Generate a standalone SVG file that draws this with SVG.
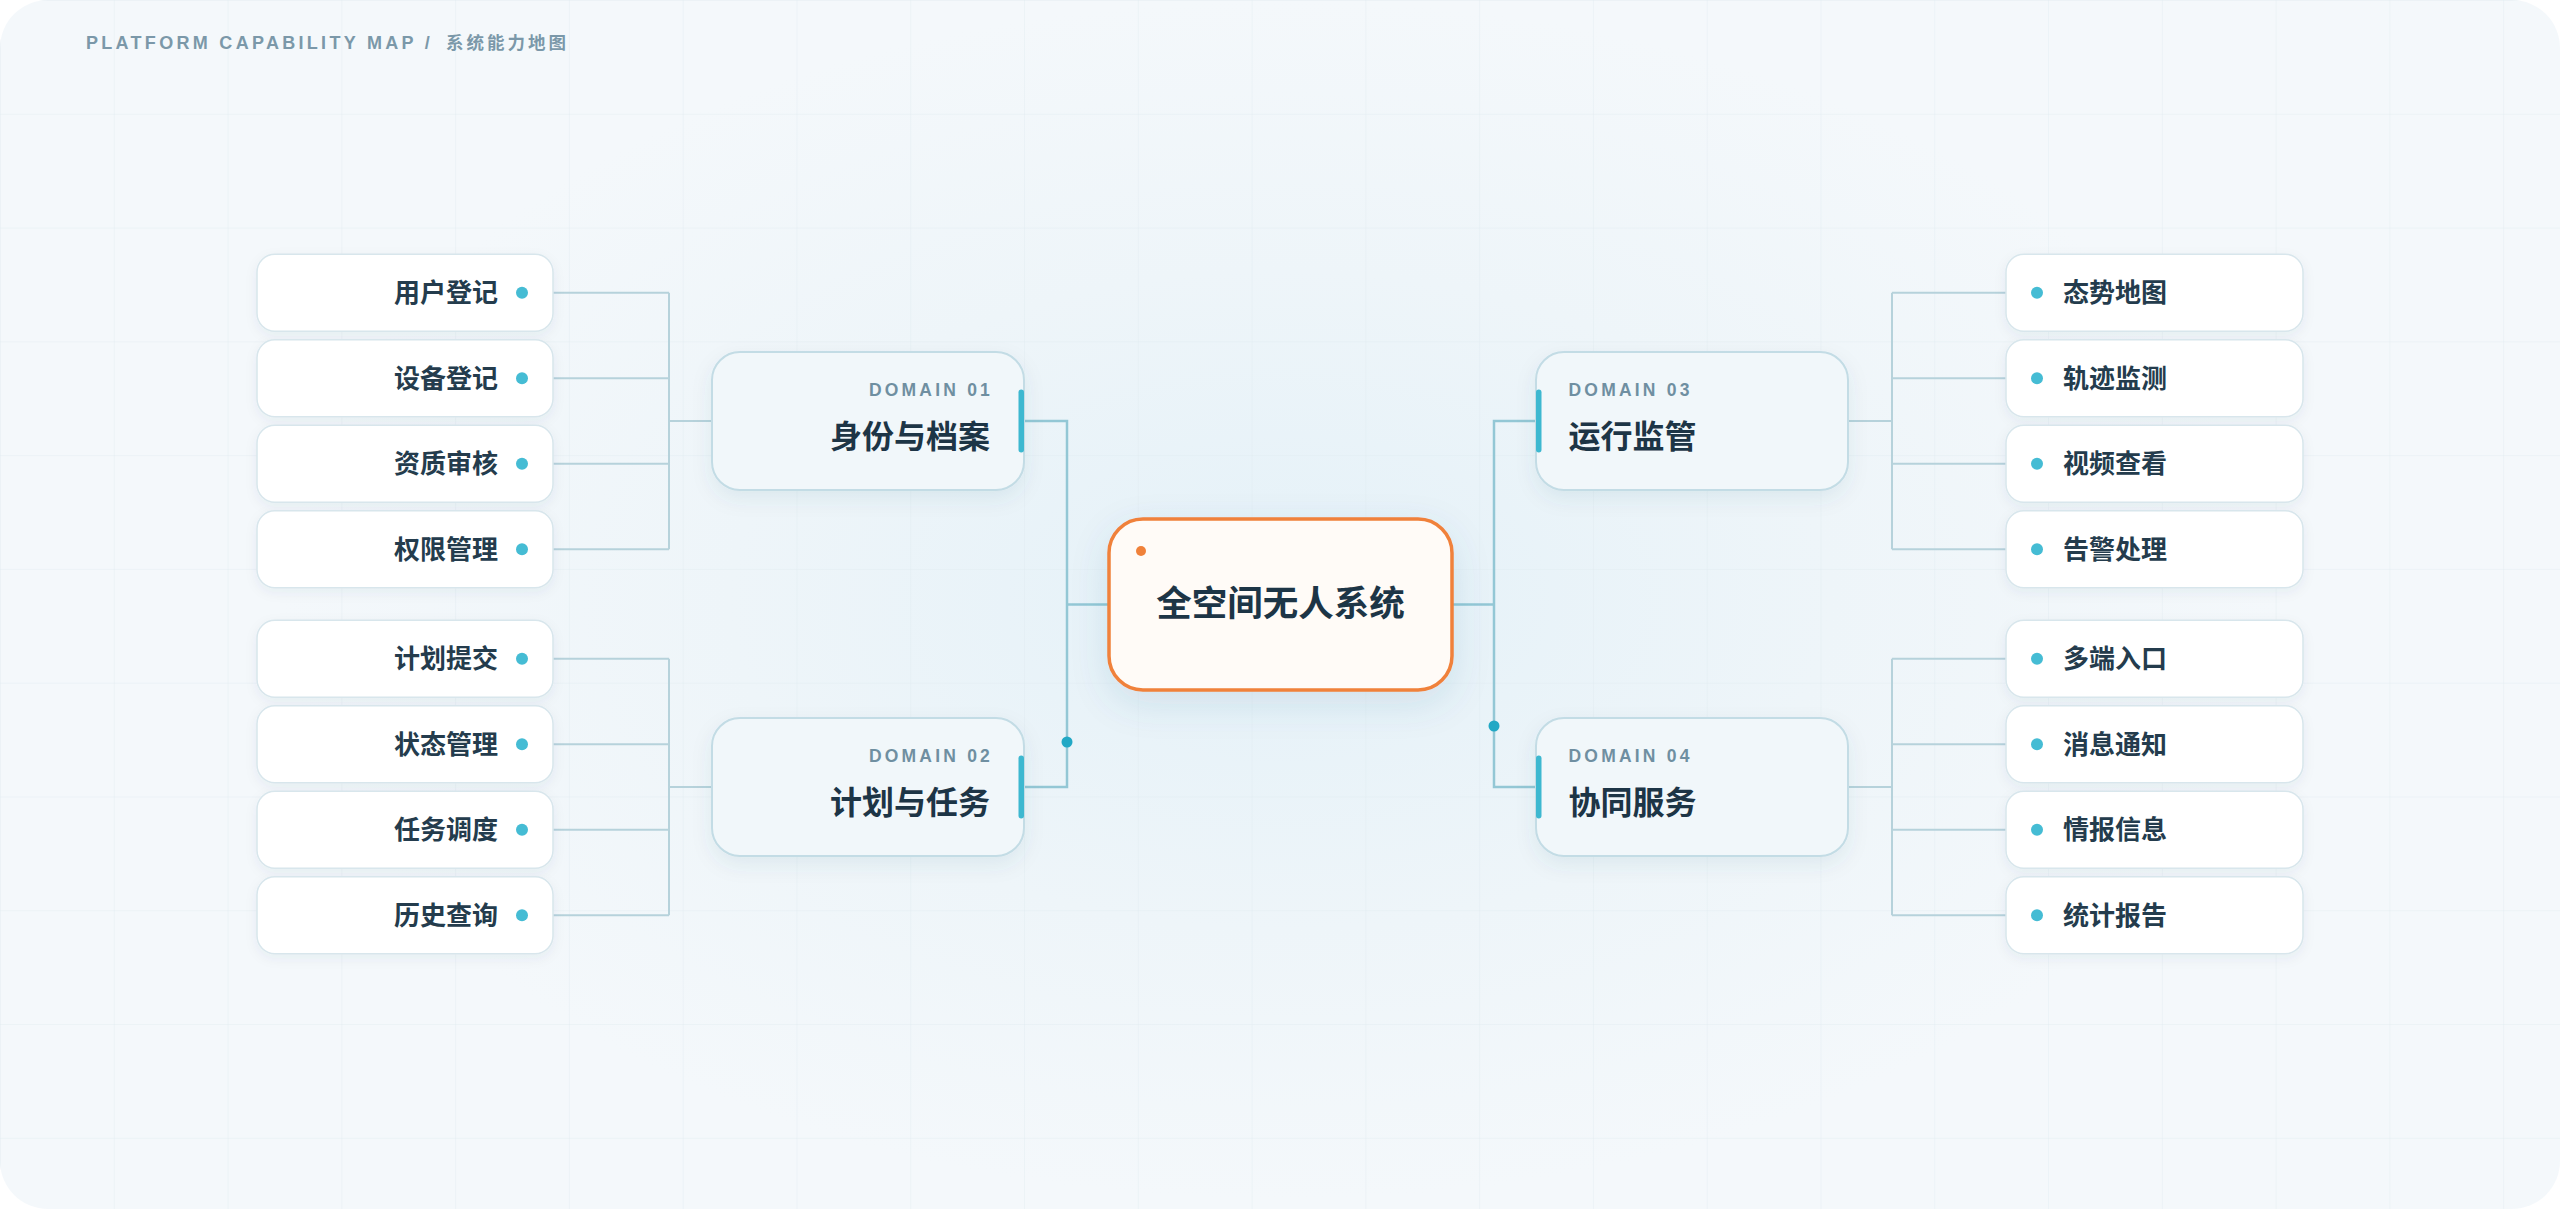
<svg xmlns="http://www.w3.org/2000/svg" width="2560" height="1209" viewBox="0 0 2560 1209">
<defs>
<style>
.title{font-family:"Liberation Sans","Noto Sans CJK SC",sans-serif;font-size:18px;font-weight:700;fill:#7B98A9;letter-spacing:3.3px}
.leafbox{fill:#FFFFFF;stroke:#D8E6EC;stroke-width:1.5}
.leaftxt{font-family:"Noto Sans CJK SC",sans-serif;font-size:26px;font-weight:700;fill:#243C4D}
.leafdot{fill:#45BCD4}
.dombox{fill:#F1F7FA;stroke:#C3DCE5;stroke-width:2}
.domlbl{font-family:"Liberation Sans",sans-serif;font-size:17.5px;font-weight:700;fill:#6F8FA1;letter-spacing:3.2px}
.domtxt{font-family:"Noto Sans CJK SC",sans-serif;font-size:32px;font-weight:700;fill:#1D3546}
.bar{fill:#3DB8D0}
.cl{fill:none;stroke:#B6D2DB;stroke-width:2}
.ct{fill:none;stroke:#93C7D5;stroke-width:2.5}
.tdot{fill:#22A8C5}
</style>
<radialGradient id="glow" cx="1280" cy="600" r="1000" gradientUnits="userSpaceOnUse" gradientTransform="translate(1280 600) scale(1 0.6) translate(-1280 -600)">
<stop offset="0" stop-color="#E4F1F8"/>
<stop offset="0.55" stop-color="#EEF5F9"/>
<stop offset="1" stop-color="#F4F8FB"/>
</radialGradient>
<pattern id="grid" x="0" y="0" width="113.78" height="113.78" patternUnits="userSpaceOnUse">
<rect x="0" y="0" width="1" height="113.78" fill="#DCE7EE" fill-opacity="0.35"/>
<rect x="0" y="0" width="113.78" height="1" fill="#DCE7EE" fill-opacity="0.35"/>
</pattern>
<filter id="shS" x="-20%" y="-30%" width="140%" height="170%">
<feDropShadow dx="0" dy="4" stdDeviation="6" flood-color="#1E4F6A" flood-opacity="0.06"/>
</filter>
<filter id="shM" x="-20%" y="-30%" width="140%" height="170%">
<feDropShadow dx="0" dy="8" stdDeviation="10" flood-color="#1E4F6A" flood-opacity="0.08"/>
</filter>
<filter id="shL" x="-30%" y="-40%" width="160%" height="190%">
<feDropShadow dx="0" dy="12" stdDeviation="18" flood-color="#2A6A8A" flood-opacity="0.12"/>
</filter>
</defs>

<rect x="0" y="0" width="2560" height="1209" fill="#FFFFFF"/>
<rect x="0" y="0" width="2560" height="1209" rx="48" fill="url(#glow)"/>
<rect x="0" y="0" width="2560" height="1209" rx="48" fill="url(#grid)"/>

<text class="title" x="86" y="49">PLATFORM CAPABILITY MAP /<tspan x="446" style="font-family:'Noto Sans CJK SC',sans-serif;font-size:17.5px;letter-spacing:3px">系统能力地图</tspan></text>

<g id="connectors">
<path class="cl" d="M553 292.75H669M553 378.25H669M553 463.75H669M553 549.25H669M669 292.75V549.25M669 421H712"/>
<path class="cl" d="M553 658.75H669M553 744.25H669M553 829.75H669M553 915.25H669M669 658.75V915.25M669 787H712"/>
<path class="cl" d="M2006 292.75H1892M2006 378.25H1892M2006 463.75H1892M2006 549.25H1892M1892 292.75V549.25M1892 421H1848"/>
<path class="cl" d="M2006 658.75H1892M2006 744.25H1892M2006 829.75H1892M2006 915.25H1892M1892 658.75V915.25M1892 787H1848"/>
<path class="ct" d="M1024 421H1067V787H1024M1067 604.5H1109"/>
<path class="ct" d="M1536 421H1494V787H1536M1494 604.5H1452"/>
<circle class="tdot" cx="1067" cy="742" r="5.5"/>
<circle class="tdot" cx="1494" cy="726" r="5.5"/>
</g>

<g id="center">
<rect x="1109" y="519" width="343" height="171" rx="34" fill="#FFFBF7" stroke="#F0813A" stroke-width="3.5" filter="url(#shL)"/>
<circle cx="1141" cy="551" r="5" fill="#F0813A"/>
<text x="1280.5" y="616" text-anchor="middle" style="font-family:'Noto Sans CJK SC',sans-serif;font-size:35.5px;font-weight:700;fill:#1D3546">全空间无人系统</text>
</g>

<g id="domain01">
<rect class="dombox" x="712" y="352" width="312" height="138" rx="28" filter="url(#shM)"/>
<rect class="bar" x="1018.5" y="389.5" width="5.5" height="63" rx="2.75"/>
<text class="domlbl" x="993" y="396" text-anchor="end">DOMAIN 01</text>
<text class="domtxt" x="990" y="448" text-anchor="end">身份与档案</text>
</g>
<g id="domain02">
<rect class="dombox" x="712" y="718" width="312" height="138" rx="28" filter="url(#shM)"/>
<rect class="bar" x="1018.5" y="755.5" width="5.5" height="63" rx="2.75"/>
<text class="domlbl" x="993" y="762" text-anchor="end">DOMAIN 02</text>
<text class="domtxt" x="990" y="814" text-anchor="end">计划与任务</text>
</g>
<g id="domain03">
<rect class="dombox" x="1536" y="352" width="312" height="138" rx="28" filter="url(#shM)"/>
<rect class="bar" x="1536" y="389.5" width="5.5" height="63" rx="2.75"/>
<text class="domlbl" x="1568.5" y="396">DOMAIN 03</text>
<text class="domtxt" x="1568.5" y="448">运行监管</text>
</g>
<g id="domain04">
<rect class="dombox" x="1536" y="718" width="312" height="138" rx="28" filter="url(#shM)"/>
<rect class="bar" x="1536" y="755.5" width="5.5" height="63" rx="2.75"/>
<text class="domlbl" x="1568.5" y="762">DOMAIN 04</text>
<text class="domtxt" x="1568.5" y="814">协同服务</text>
</g>

<g id="leaf-yonghu"><rect class="leafbox" x="257" y="254.25" width="296" height="77" rx="18" filter="url(#shS)"/><circle class="leafdot" cx="522" cy="292.75" r="6"/><text class="leaftxt" x="498" y="302" text-anchor="end">用户登记</text></g>
<g id="leaf-shebei"><rect class="leafbox" x="257" y="339.75" width="296" height="77" rx="18" filter="url(#shS)"/><circle class="leafdot" cx="522" cy="378.25" r="6"/><text class="leaftxt" x="498" y="387.5" text-anchor="end">设备登记</text></g>
<g id="leaf-zizhi"><rect class="leafbox" x="257" y="425.25" width="296" height="77" rx="18" filter="url(#shS)"/><circle class="leafdot" cx="522" cy="463.75" r="6"/><text class="leaftxt" x="498" y="473" text-anchor="end">资质审核</text></g>
<g id="leaf-quanxian"><rect class="leafbox" x="257" y="510.75" width="296" height="77" rx="18" filter="url(#shS)"/><circle class="leafdot" cx="522" cy="549.25" r="6"/><text class="leaftxt" x="498" y="558.5" text-anchor="end">权限管理</text></g>

<g id="leaf-jihua"><rect class="leafbox" x="257" y="620.25" width="296" height="77" rx="18" filter="url(#shS)"/><circle class="leafdot" cx="522" cy="658.75" r="6"/><text class="leaftxt" x="498" y="668" text-anchor="end">计划提交</text></g>
<g id="leaf-zhuangtai"><rect class="leafbox" x="257" y="705.75" width="296" height="77" rx="18" filter="url(#shS)"/><circle class="leafdot" cx="522" cy="744.25" r="6"/><text class="leaftxt" x="498" y="753.5" text-anchor="end">状态管理</text></g>
<g id="leaf-renwu"><rect class="leafbox" x="257" y="791.25" width="296" height="77" rx="18" filter="url(#shS)"/><circle class="leafdot" cx="522" cy="829.75" r="6"/><text class="leaftxt" x="498" y="839" text-anchor="end">任务调度</text></g>
<g id="leaf-lishi"><rect class="leafbox" x="257" y="876.75" width="296" height="77" rx="18" filter="url(#shS)"/><circle class="leafdot" cx="522" cy="915.25" r="6"/><text class="leaftxt" x="498" y="924.5" text-anchor="end">历史查询</text></g>

<g id="leaf-taishi"><rect class="leafbox" x="2006" y="254.25" width="297" height="77" rx="18" filter="url(#shS)"/><circle class="leafdot" cx="2037" cy="292.75" r="6"/><text class="leaftxt" x="2063" y="302">态势地图</text></g>
<g id="leaf-guiji"><rect class="leafbox" x="2006" y="339.75" width="297" height="77" rx="18" filter="url(#shS)"/><circle class="leafdot" cx="2037" cy="378.25" r="6"/><text class="leaftxt" x="2063" y="387.5">轨迹监测</text></g>
<g id="leaf-shipin"><rect class="leafbox" x="2006" y="425.25" width="297" height="77" rx="18" filter="url(#shS)"/><circle class="leafdot" cx="2037" cy="463.75" r="6"/><text class="leaftxt" x="2063" y="473">视频查看</text></g>
<g id="leaf-gaojing"><rect class="leafbox" x="2006" y="510.75" width="297" height="77" rx="18" filter="url(#shS)"/><circle class="leafdot" cx="2037" cy="549.25" r="6"/><text class="leaftxt" x="2063" y="558.5">告警处理</text></g>

<g id="leaf-duoduan"><rect class="leafbox" x="2006" y="620.25" width="297" height="77" rx="18" filter="url(#shS)"/><circle class="leafdot" cx="2037" cy="658.75" r="6"/><text class="leaftxt" x="2063" y="668">多端入口</text></g>
<g id="leaf-xiaoxi"><rect class="leafbox" x="2006" y="705.75" width="297" height="77" rx="18" filter="url(#shS)"/><circle class="leafdot" cx="2037" cy="744.25" r="6"/><text class="leaftxt" x="2063" y="753.5">消息通知</text></g>
<g id="leaf-qingbao"><rect class="leafbox" x="2006" y="791.25" width="297" height="77" rx="18" filter="url(#shS)"/><circle class="leafdot" cx="2037" cy="829.75" r="6"/><text class="leaftxt" x="2063" y="839">情报信息</text></g>
<g id="leaf-tongji"><rect class="leafbox" x="2006" y="876.75" width="297" height="77" rx="18" filter="url(#shS)"/><circle class="leafdot" cx="2037" cy="915.25" r="6"/><text class="leaftxt" x="2063" y="924.5">统计报告</text></g>
</svg>
